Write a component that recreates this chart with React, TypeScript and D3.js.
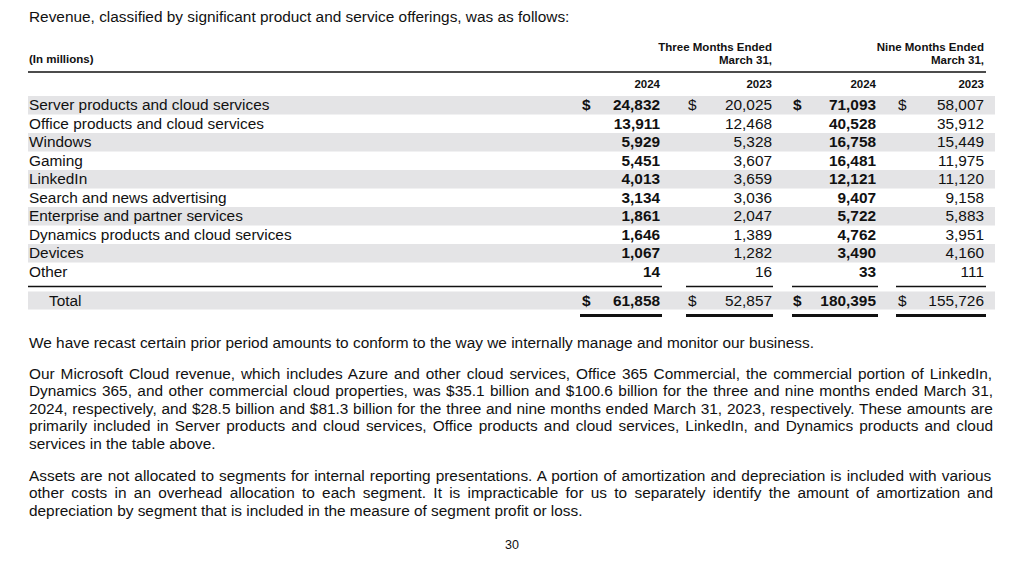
import React from "react";
import * as d3 from "d3";

const title = "Revenue, classified by significant product and service offerings, was as follows:";
const unitLabel = "(In millions)";
const periods = ["Three Months Ended", "Nine Months Ended"];
const periodSub = "March 31,";
const years = ["2024", "2023", "2024", "2023"];

const categories = [
  "Server products and cloud services",
  "Office products and cloud services",
  "Windows",
  "Gaming",
  "LinkedIn",
  "Search and news advertising",
  "Enterprise and partner services",
  "Dynamics products and cloud services",
  "Devices",
  "Other",
];
const q2024 = [24832, 13911, 5929, 5451, 4013, 3134, 1861, 1646, 1067, 14];
const q2023 = [20025, 12468, 5328, 3607, 3659, 3036, 2047, 1389, 1282, 16];
const ytd2024 = [71093, 40528, 16758, 16481, 12121, 9407, 5722, 4762, 3490, 33];
const ytd2023 = [58007, 35912, 15449, 11975, 11120, 9158, 5883, 3951, 4160, 111];
const totalLabel = "Total";
const totals = [61858, 52857, 180395, 155726];

const para1 = [
  "We have recast certain prior period amounts to conform to the way we internally manage and monitor our business.",
];
const para2 = [
  "Our Microsoft Cloud revenue, which includes Azure and other cloud services, Office 365 Commercial, the commercial portion of LinkedIn,",
  "Dynamics 365, and other commercial cloud properties, was $35.1 billion and $100.6 billion for the three and nine months ended March 31,",
  "2024, respectively, and $28.5 billion and $81.3 billion for the three and nine months ended March 31, 2023, respectively. These amounts are",
  "primarily included in Server products and cloud services, Office products and cloud services, LinkedIn, and Dynamics products and cloud",
  "services in the table above.",
];
const para3 = [
  "Assets are not allocated to segments for internal reporting presentations. A portion of amortization and depreciation is included with various",
  "other costs in an overhead allocation to each segment. It is impracticable for us to separately identify the amount of amortization and",
  "depreciation by segment that is included in the measure of segment profit or loss.",
];
const pageNumber = "30";

const FONT = "'Liberation Sans', Arial, Helvetica, sans-serif";
const W = 1024;
const H = 579;
const FS = 15.4;
const HFS = 11.5;

let ctx: CanvasRenderingContext2D | null = null;
function measure(text: string, size: number, weight = "normal") {
  if (!ctx) {
    const c = document.createElement("canvas");
    ctx = c.getContext("2d");
  }
  if (!ctx) return text.length * size * 0.5;
  ctx.font = `${weight} ${size}px ${FONT}`;
  return ctx.measureText(text).width;
}

function Paragraph({ lines, x, y0, lh, width }: { lines: string[]; x: number; y0: number; lh: number; width: number }) {
  return (
    <g>
      {lines.map((ln, i) => {
        const last = i === lines.length - 1;
        const spaces = (ln.match(/ /g) || []).length;
        let ws = 0;
        if (!last && lines.length > 1 && spaces > 0) {
          ws = (width - measure(ln, FS)) / spaces;
        }
        return (
          <text key={i} x={x} y={y0 + i * lh} fontSize={FS} style={{ wordSpacing: `${ws}px`, whiteSpace: "pre" }}>
            {ln}
          </text>
        );
      })}
    </g>
  );
}

export default function App() {
  const fmt = d3.format(",");
  const left = 28;
  const bandRight = 995;
  const rowTop = 96;
  const rowH = 18.5;
  const y = d3
    .scaleBand<string>()
    .domain(categories)
    .range([rowTop, rowTop + rowH * categories.length])
    .padding(0);

  const colRight = [660, 772, 876, 984];
  const dollarX = [582, 688, 793, 898];
  const segStart = [left, 686, 792, 896];
  const thickStart = [580, 686, 792, 896];
  const segEnd = [662, 773, 878, 986];
  const series = [q2024, q2023, ytd2024, ytd2023];
  const bold = [true, false, true, false];

  const totalTop = 291.5;
  const totalH = 18;
  const base = 14.2;

  return (
    <svg
      width={W}
      height={H}
      style={{ position: "absolute", left: 0, top: 0, background: "#fff", fontFamily: FONT }}
      fill="#111"
    >
      <rect x={0} y={0} width={W} height={H} fill="#fff" />
      <text x={29} y={22} fontSize={FS}>
        {title}
      </text>

      {/* header */}
      <text x={29} y={63} fontSize={HFS} fontWeight="bold">
        {unitLabel}
      </text>
      {periods.map((p, i) => (
        <g key={p} fontSize={HFS} fontWeight="bold" textAnchor="end">
          <text x={colRight[i * 2 + 1]} y={51}>
            {p}
          </text>
          <text x={colRight[i * 2 + 1]} y={64}>
            {periodSub}
          </text>
        </g>
      ))}
      <line x1={left} x2={986} y1={72} y2={72} stroke="#111" strokeWidth={1.6} />
      {years.map((yr, i) => (
        <text key={i} x={colRight[i]} y={88} fontSize={HFS} fontWeight="bold" textAnchor="end">
          {yr}
        </text>
      ))}

      {/* rows */}
      {categories.map((c, i) => {
        const top = y(c) as number;
        return (
          <g key={c}>
            {i % 2 === 0 && <rect x={left} y={top} width={bandRight - left} height={y.bandwidth()} fill="#e4e4e6" />}
            <text x={29} y={top + base} fontSize={FS}>
              {c}
            </text>
            {series.map((s, j) => (
              <g key={j}>
                {i === 0 && (
                  <text x={dollarX[j]} y={top + base} fontSize={FS} fontWeight={bold[j] ? "bold" : "normal"}>
                    $
                  </text>
                )}
                <text
                  x={colRight[j]}
                  y={top + base}
                  fontSize={FS}
                  textAnchor="end"
                  fontWeight={bold[j] ? "bold" : "normal"}
                >
                  {fmt(s[i])}
                </text>
              </g>
            ))}
          </g>
        );
      })}

      {/* subtotal lines */}
      {segStart.map((s, j) => (
        <line key={j} x1={s} x2={segEnd[j]} y1={286.5} y2={286.5} stroke="#111" strokeWidth={1.3} />
      ))}

      {/* total row */}
      <rect x={left} y={totalTop} width={bandRight - left} height={totalH} fill="#e4e4e6" />
      <text x={49} y={totalTop + 14} fontSize={FS}>
        {totalLabel}
      </text>
      {totals.map((v, j) => (
        <g key={j}>
          <text x={dollarX[j]} y={totalTop + 14} fontSize={FS} fontWeight={bold[j] ? "bold" : "normal"}>
            $
          </text>
          <text
            x={colRight[j]}
            y={totalTop + 14}
            fontSize={FS}
            textAnchor="end"
            fontWeight={bold[j] ? "bold" : "normal"}
          >
            {fmt(v)}
          </text>
        </g>
      ))}
      {thickStart.map((s, j) => (
        <line key={j} x1={s} x2={segEnd[j]} y1={315.5} y2={315.5} stroke="#111" strokeWidth={3.2} />
      ))}

      {/* paragraphs */}
      <Paragraph lines={para1} x={29} y0={347.5} lh={17.5} width={964} />
      <Paragraph lines={para2} x={29} y0={378.5} lh={17.5} width={964} />
      <Paragraph lines={para3} x={29} y0={480.5} lh={17.5} width={964} />

      <text x={512} y={549} fontSize={12.5} textAnchor="middle">
        {pageNumber}
      </text>
    </svg>
  );
}
